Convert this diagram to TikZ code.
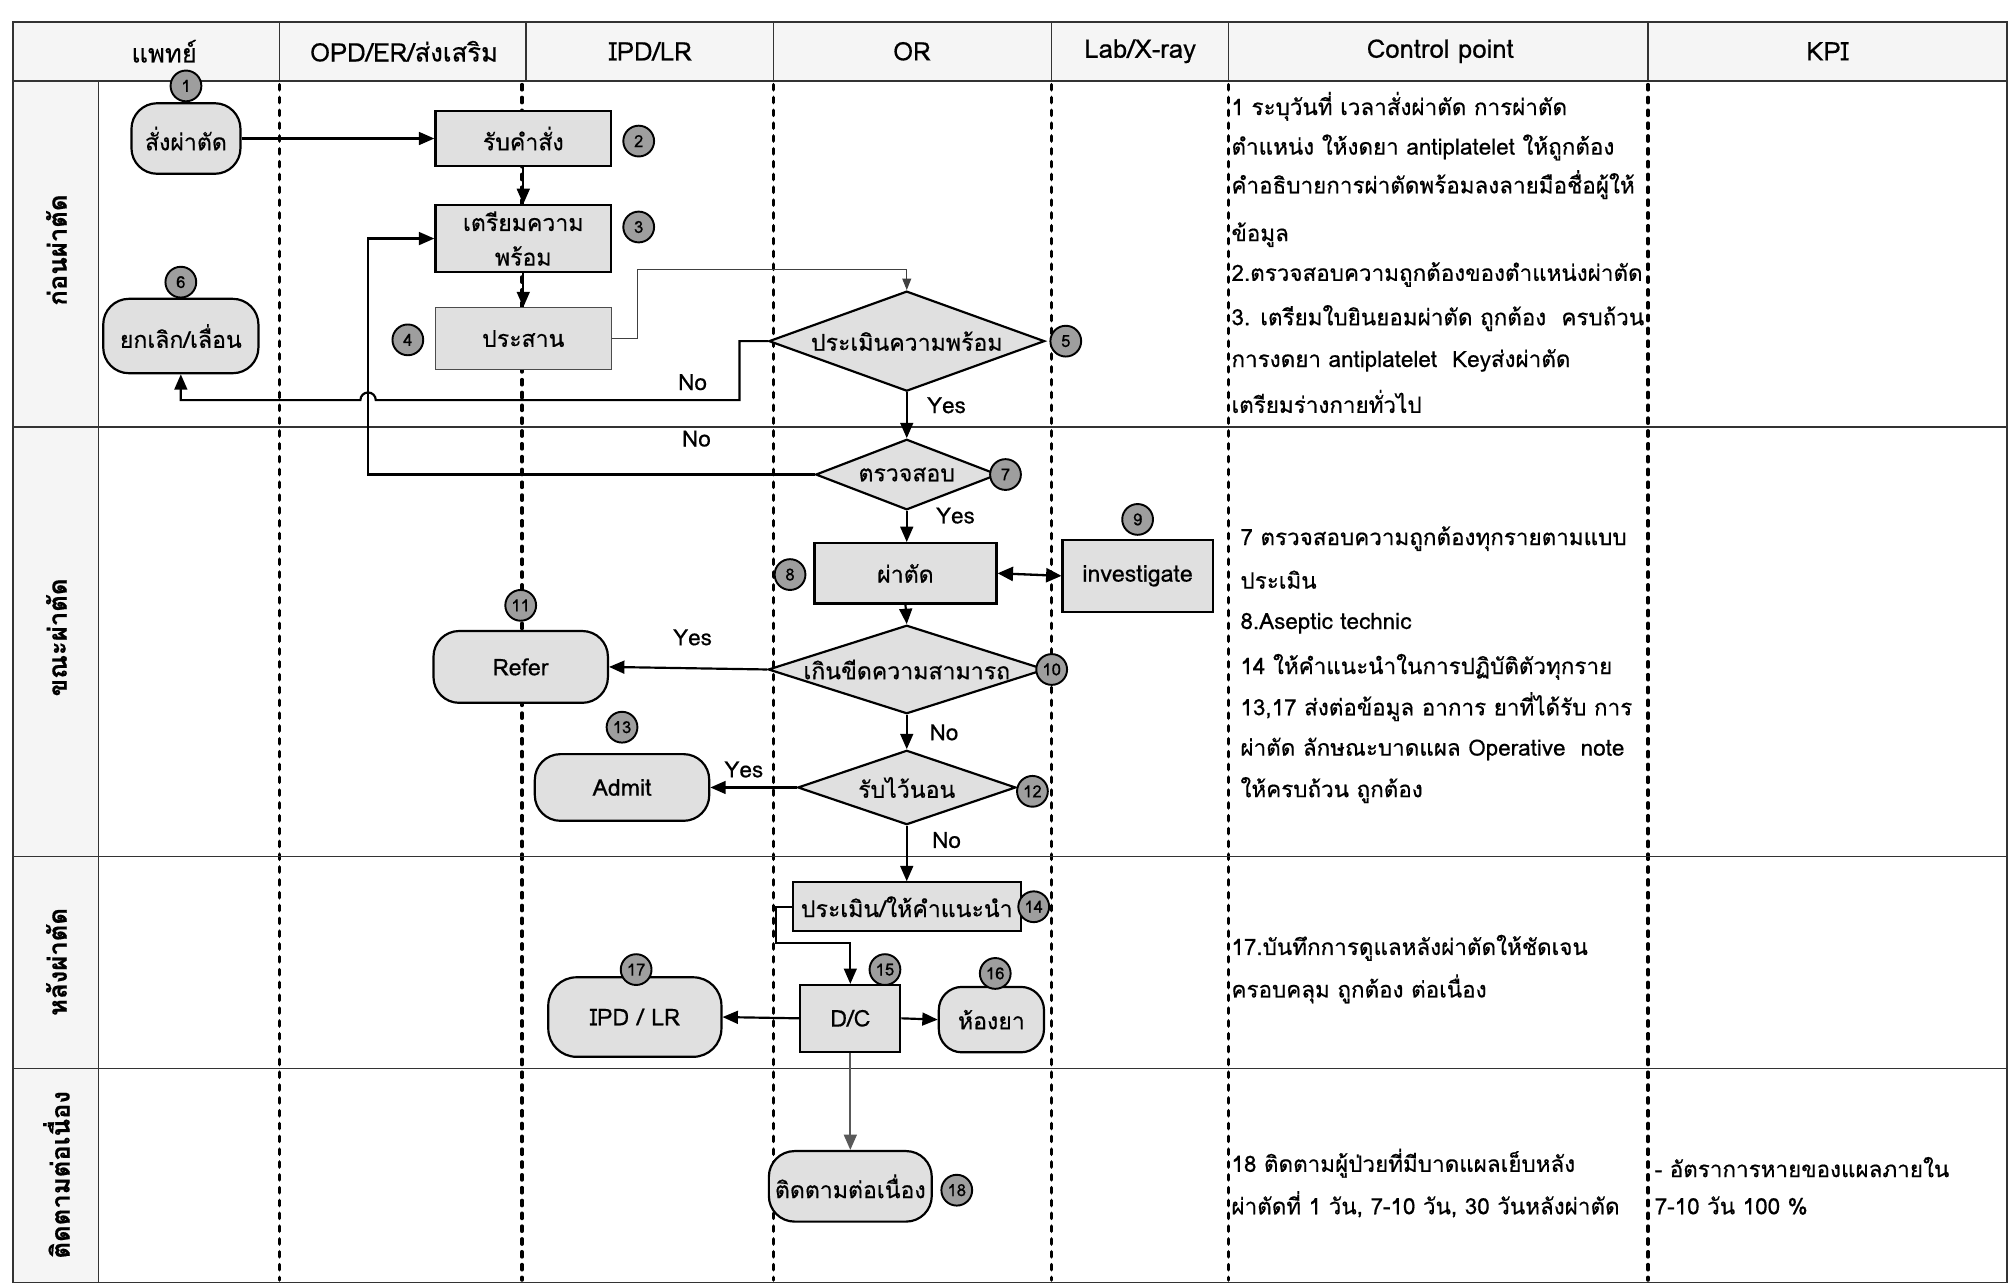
\documentclass[tikz,border=0pt]{standalone}
\usepackage{fontspec}
\setmainfont[Script=Thai,FakeBold=0.5,BoldFont=Loma Bold]{Loma}
\usetikzlibrary{arrows.meta,shapes.geometric,calc}

\definecolor{boxfill}{gray}{0.88}
\definecolor{numfill}{gray}{0.62}
\definecolor{headfill}{gray}{0.96}

\newcommand{\bodysz}{\fontsize{18}{30}\selectfont}
\newcommand{\headsz}{\fontsize{20}{22}\selectfont}
\newcommand{\notesz}{\fontsize{17.5}{20}\selectfont}

\begin{document}
\begin{tikzpicture}[x=1pt,y=-1pt,
  lane/.style={line width=2.8pt, dash pattern=on 4pt off 6pt, line cap=round},
  grid/.style={line width=1.1pt, draw=black!80},
  proc/.style={draw, line width=1.7pt, fill=boxfill, inner sep=2pt, align=center, font=\bodysz},
  term/.style={proc, rounded corners=20pt},
  dec/.style={diamond, draw, line width=1.7pt, fill=boxfill, inner sep=0pt},
  num/.style={circle, draw, line width=1.5pt, fill=numfill, minimum size=24pt, inner sep=0pt, font=\fontsize{13}{13}\selectfont},
  arr/.style={line width=1.7pt, -{Triangle[length=12pt,width=10pt]}},
  thin arr/.style={line width=0.9pt, draw=black!75, -{Triangle[length=9pt,width=7pt]}},
  yn/.style={font=\notesz},
  note/.style={anchor=west, font=\notesz, inner sep=0pt},
  head/.style={font=\headsz},
  side/.style={font=\headsz\bfseries, rotate=90}
]
\useasboundingbox (0,0) rectangle (1568,1003);
\fill[white] (0,0) rectangle (1568,1003);

% header strip and row-label column
\fill[headfill] (10,17) rectangle (1565,63);
\fill[headfill] (10,63) rectangle (77,1000);

% swimlane separators
\foreach \x in {218,407,603,820,958,1285} \draw[lane] (\x,66) -- (\x,998);
\foreach \x in {218,410,603,820,958,1285} \draw[grid] (\x,17) -- (\x,63);
\draw[grid] (77,63) -- (77,1000);
\foreach \y in {63,333,668,833} \draw[grid] (10,\y) -- (1565,\y);
\draw[grid] (10,17) rectangle (1565,1000);

% column titles
\node[head] (h1) at (128,40) {แพทย์};
\node[head] (h2) at (315,40) {OPD/ER/ส่งเสริม};
\node[head] (h3) at (507,40) {IPD/LR};
\node[head] (h4) at (711,40) {OR};
\node[head] (h5) at (889,40) {Lab/X-ray};
\node[head] (h6) at (1123,40) {Control point};
\node[head] (h7) at (1425,40) {KPI};

% phase titles
\node[side] (p1) at (44,195) {ก่อนผ่าตัด};
\node[side] (p2) at (44,497) {ขณะผ่าตัด};
\node[side] (p3) at (44,750) {หลังผ่าตัด};
\node[side] (p4) at (44,916) {ติดตามต่อเนื่อง};

% process steps
\node[term, minimum width=85pt, minimum height=55pt] (n1) at (145,108) {สั่งผ่าตัด};
\node[proc, minimum width=137pt, minimum height=43pt] (n2) at (408,108) {รับคำสั่ง};
\node[proc, minimum width=137pt, minimum height=52pt] (n3) at (408,186) {เตรียมความ\\[-3pt]พร้อม};
\node[proc, line width=0.9pt, draw=black!70, minimum width=137pt, minimum height=48pt] (n4) at (408,264) {ประสาน};
\node[dec, minimum width=215pt, minimum height=78pt, label={[font=\bodysz]center:ประเมินความพร้อม}] (n5) at (707,266) {};
\node[term, minimum width=121pt, minimum height=58pt] (n6) at (141,262) {ยกเลิก/เลื่อน};
\node[dec, minimum width=142pt, minimum height=55pt, label={[font=\bodysz]center:ตรวจสอบ}] (n7) at (707,370) {};
\node[proc, minimum width=142pt, minimum height=47pt] (n8) at (706,447) {ผ่าตัด};
\node[proc, minimum width=117pt, minimum height=56pt] (n9) at (887,449) {investigate};
\node[dec, minimum width=216pt, minimum height=69pt, label={[font=\bodysz]center:เกินขีดความสามารถ}] (n10) at (707,522) {};
\node[term, minimum width=136pt, minimum height=56pt] (n11) at (406,520) {Refer};
\node[dec, minimum width=170pt, minimum height=58pt, label={[font=\bodysz]center:รับไว้นอน}] (n12) at (707,614) {};
\node[term, minimum width=136pt, minimum height=52pt] (n13) at (485,614) {Admit};
\node[proc, minimum width=178pt, minimum height=38pt] (n14) at (707,707) {ประเมิน/ให้คำแนะนำ};
\node[proc, minimum width=78pt, minimum height=52pt] (n15) at (663,794) {D/C};
\node[term, rounded corners=18pt, minimum width=82pt, minimum height=51pt] (n16) at (773,795) {ห้องยา};
\node[term, rounded corners=22pt, minimum width=135pt, minimum height=62pt] (n17) at (495,793) {IPD / LR};
\node[term, minimum width=127pt, minimum height=55pt] (n18) at (663,925) {ติดตามต่อเนื่อง};

% step numbers
\node[num] (c1) at (145,67) {1};
\node[num] (c2) at (498,110) {2};
\node[num] (c3) at (498,177) {3};
\node[num] (c4) at (318,265) {4};
\node[num] (c5) at (831,266) {5};
\node[num] (c6) at (141,220) {6};
\node[num] (c7) at (784,370) {7};
\node[num] (c8) at (616,448) {8};
\node[num] (c9) at (887,405) {9};
\node[num] (c10) at (820,522) {10};
\node[num] (c11) at (406,472) {11};
\node[num] (c12) at (805,617) {12};
\node[num] (c13) at (485,567) {13};
\node[num] (c14) at (806,707) {14};
\node[num] (c15) at (690,756) {15};
\node[num] (c16) at (776,759) {16};
\node[num] (c17) at (496,756) {17};
\node[num] (c18) at (746,928) {18};

% bend points
\coordinate (hopA) at (293,312);
\coordinate (loopC) at (287,370);

% connectors
\draw[arr] (n1.east) -- (n2.west);
\draw[arr] (n2.south) -- (n3.north);
\draw[arr] (n3.south) -- (n4.north);
\draw[thin arr] (n4.east) -- ++(20,0) -- ++(0,-54) -| (n5.north);
\draw[arr] (n5.west) -- ++(-22,0) |- (hopA) arc[start angle=0, end angle=-180, radius=6] -| (n6.south);
\draw[arr] (n5.south) -- (n7.north);
\draw[arr] (n7.west) -- (loopC) |- (n3.west);
\draw[arr] (n7.south) -- (n7.south |- n8.north);
\draw[line width=1.8pt, {Triangle[length=12pt,width=11pt]}-{Triangle[length=12pt,width=11pt]}] (n8.east) -- (n9.west);
\draw[arr] (n8.south) -- (n10.north);
\draw[arr] (n10.west) -- (n11.east);
\draw[arr] (n10.south) -- (n12.north);
\draw[arr] (n12.west) -- (n13.east);
\draw[arr] (n12.south) -- (n14.north);
\draw[arr] (n14.west) -- ++(-12,0) |- ($(n15.north)+(0,-32)$) -- (n15.north);
\draw[arr] (n15.east) -- (n16.west);
\draw[arr] (n15.west) -- (n17.east);
\draw[arr, draw=black!65] (n15.south) -- (n18.north);

% branch labels
\node[yn] (l1) at (540,298) {No};
\node[yn] (l2) at (738,316) {Yes};
\node[yn] (l3) at (543,342) {No};
\node[yn] (l4) at (745,402) {Yes};
\node[yn] (l5) at (540,497) {Yes};
\node[yn] (l6) at (736,571) {No};
\node[yn] (l7) at (580,600) {Yes};
\node[yn] (l8) at (738,655) {No};

% control points
\node[note] (t1) at (960,83) {1 ระบุวันที่ เวลาสั่งผ่าตัด การผ่าตัด};
\node[note] (t2) at (960,115) {ตำแหน่ง ให้งดยา antiplatelet ให้ถูกต้อง};
\node[note] (t3) at (960,144) {คำอธิบายการผ่าตัดพร้อมลงลายมือชื่อผู้ให้};
\node[note] (t4) at (960,183) {ข้อมูล};
\node[note] (t5) at (960,214) {2.ตรวจสอบความถูกต้องของตำแหน่งผ่าตัด};
\node[note] (t6) at (960,248) {3. เตรียมใบยินยอมผ่าตัด ถูกต้อง \ ครบถ้วน};
\node[note] (t7) at (960,281) {การงดยา antiplatelet \ Keyส่งผ่าตัด};
\node[note] (t8) at (960,313) {เตรียมร่างกายทั่วไป};

\node[note] (t9) at (967,420) {7 ตรวจสอบความถูกต้องทุกรายตามแบบ};
\node[note] (t10) at (967,452) {ประเมิน};
\node[note] (t11) at (967,486) {8.Aseptic technic};
\node[note] (t12) at (967,520) {14 ให้คำแนะนำในการปฏิบัติตัวทุกราย};
\node[note] (t13) at (967,551) {13,17 ส่งต่อข้อมูล อาการ ยาที่ได้รับ การ};
\node[note] (t14) at (967,584) {ผ่าตัด ลักษณะบาดแผล Operative \ note};
\node[note] (t15) at (967,616) {ให้ครบถ้วน ถูกต้อง};

\node[note] (t16) at (960,739) {17.บันทึกการดูแลหลังผ่าตัดให้ชัดเจน};
\node[note] (t17) at (960,771) {ครอบคลุม ถูกต้อง ต่อเนื่อง};

\node[note] (t18) at (960,907) {18 ติดตามผู้ป่วยที่มีบาดแผลเย็บหลัง};
\node[note] (t19) at (960,939) {ผ่าตัดที่ 1 วัน, 7-10 วัน, 30 วันหลังผ่าตัด};

% KPI
\node[note] (k1) at (1290,910) {- อัตราการหายของแผลภายใน};
\node[note] (k2) at (1290,940) {7-10 วัน 100 \%};
\end{tikzpicture}
\end{document}
